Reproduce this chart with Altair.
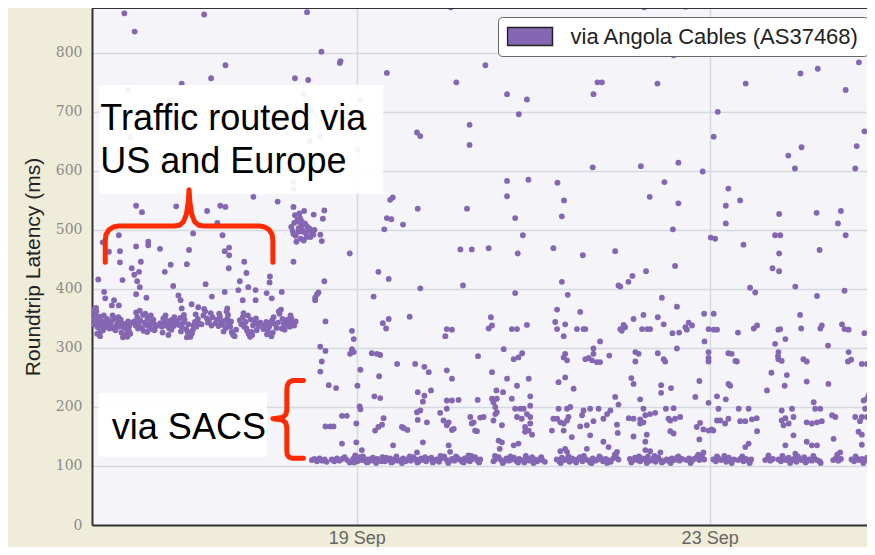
import altair as alt
import pandas as pd

SERIES = "via Angola Cables (AS37468)"
PURPLE = "#8466b3"

# hours after 16 Sep 00:00, latency in ms
x_tick_hours = [72, 168]
x_tick_labels = ["19 Sep", "23 Sep"]
y_ticks = [0, 100, 200, 300, 400, 500, 600, 700, 800]
x_max = 210.8
y_max = 876

# dense band while routed via US / Europe
band_points = [
    (0.3,350),(0.5,340),(0.8,358),(1.0,345),(1.2,362),(1.5,335),(1.8,352),(2.0,342),(2.3,328),(2.6,346),
    (2.9,338),(3.2,355),(3.5,344),(3.8,336),(4.1,349),(4.4,341),(4.7,333),(0.6,365),(1.4,324),(2.2,320),
    (3.0,330),(1.1,368),(2.7,339),(1.9,353),
    (5.0,340),(5.4,346),(5.8,333),(6.2,350),(6.6,338),(7.0,344),(7.4,336),(7.8,348),(8.2,342),(8.6,335),
    (9.0,340),(9.4,332),(9.8,345),(10.2,338),(10.6,343),(5.6,355),(6.4,330),(7.2,352),(8.0,326),(8.8,321),
    (9.6,319),(10.4,324),(8.4,318),(9.2,323),(10.0,330),
    (11.5,345),(11.9,338),(12.3,352),(12.7,341),(13.1,347),(13.5,334),(13.9,356),(14.3,343),(14.7,339),
    (15.1,350),(15.5,336),(15.9,344),(16.3,332),(16.7,348),(17.1,340),(17.5,337),(12.0,360),(13.0,363),
    (14.0,329),(15.0,327),(16.0,355),(17.0,330),(12.5,333),(14.5,358),(16.5,342),
    (18.6,342),(19.0,336),(19.4,350),(19.8,344),(20.2,338),(20.6,346),(21.0,333),(21.4,341),(21.8,348),
    (22.2,337),(22.6,343),(19.2,326),(20.0,355),(20.8,322),(21.6,331),(22.4,352),
    (23.2,345),(23.6,339),(24.0,351),(24.4,336),(24.8,343),(25.2,348),(25.6,332),(26.0,327),(26.4,321),
    (26.8,319),(27.2,325),(27.6,338),(28.0,344),(28.4,336),(28.8,349),(29.2,341),(25.0,356),(25.8,318),
    (26.6,323),(27.4,330),(24.2,328),(28.2,357),(26.2,340),
    (29.8,340),(30.3,355),(30.8,362),(31.3,350),(31.8,346),(32.3,359),(32.8,352),(30.5,366),(31.5,343),
    (32.5,338),
    (33.6,342),(34.0,348),(34.4,337),(34.8,353),(35.2,344),(35.6,339),(36.0,346),(36.4,334),(36.8,349),
    (37.2,341),(37.6,336),(38.0,327),(38.4,322),(38.8,320),(39.2,331),(34.6,358),(35.8,328),(37.0,356),
    (38.2,325),(36.6,362),(37.8,345),
    (40.2,347),(40.6,340),(41.0,352),(41.4,336),(41.8,344),(42.2,329),(42.6,324),(43.0,319),(43.4,327),
    (43.8,338),(44.2,345),(44.6,350),(45.0,341),(45.4,337),(45.8,343),(41.2,359),(42.4,355),(43.6,322),
    (44.8,330),(42.0,333),(43.2,348),
    (46.6,332),(47.0,338),(47.4,344),(47.8,329),(48.2,336),(48.6,342),(49.0,347),(49.4,352),(49.8,340),
    (50.2,334),(50.6,343),(51.0,358),(51.4,365),(51.8,349),(52.2,341),(52.6,346),(53.0,339),(53.4,344),
    (53.8,336),(54.2,350),(54.6,342),(55.0,338),(55.4,345),(47.6,323),(49.2,326),(50.8,362),(52.4,331),
    (54.0,355),(48.8,320),(51.6,333),(53.2,348),
]

# cluster around 500 ms on 18 Sep
cluster_points = [
    (54.2,505),(54.6,498),(55.0,512),(55.4,490),(55.8,516),(56.2,503),(56.6,520),(57.0,508),(57.4,497),
    (57.8,511),(58.2,494),(58.6,505),(59.0,500),(59.4,488),(59.8,496),(60.2,492),(55.2,525),(56.0,514),
    (56.8,485),(57.6,482),(58.4,488),(56.4,528),(57.2,500),(55.6,480),(58.0,510),(59.2,502),(54.8,493),
    (56.2,497),(57.0,515),(60.5,500),
]

# base band near 110 ms via SACS
base_points = [
    (59.8,110),(60.5,112),(61.2,108),(61.9,113),(62.6,109),(63.3,111),(63.8,107),
    (65.2,111),(65.9,108),(66.6,113),(67.3,109),(68.0,112),(68.7,115),(69.4,110),(70.1,106),
    (71.0,112),(71.6,118),(72.2,108),(72.8,115),(73.4,110),(74.0,113),(74.6,107),(75.2,111),(75.8,109),
    (76.4,114),(77.0,108),(77.6,112),(78.3,110),(79.0,115),(79.7,108),(80.4,111),(81.1,113),(81.8,107),
    (82.5,112),(83.2,109),(71.3,106),(72.5,113),(73.7,116),(74.9,106),(76.1,112),(77.3,105),(78.7,108),
    (80.0,114),(81.4,106),(82.8,116),
    (83.9,110),(84.6,113),(85.3,108),(86.0,112),(86.7,109),(87.4,115),(88.1,111),(88.8,107),(89.5,113),
    (90.2,110),(90.9,108),(91.6,112),(92.3,114),(93.0,109),(93.7,111),(94.4,107),(95.1,113),(95.8,116),
    (96.5,110),(97.2,108),(97.9,112),(98.6,109),(99.3,114),(100.0,111),(100.7,107),(101.4,113),(102.1,110),
    (102.8,108),(103.5,112),(104.2,115),(104.9,109),(105.6,111),(84.3,105),(86.4,116),(88.5,106),(90.6,115),
    (92.7,106),(94.8,117),(96.9,105),(99.0,116),(101.1,106),(103.2,117),(105.3,106),
    (109.2,108),(109.9,112),(110.6,115),(111.3,110),(112.0,107),(112.7,113),(113.4,109),(114.1,111),
    (114.8,114),(115.5,108),(116.2,112),(116.9,110),(117.6,106),(118.3,113),(119.0,109),(119.7,115),
    (120.4,111),(121.1,108),(121.8,112),(122.5,110),(123.2,107),(109.6,117),(111.7,105),(113.8,116),
    (115.9,106),(118.0,117),(120.1,105),(122.2,115),
    (126.4,111),(127.1,108),(127.8,114),(128.5,110),(129.2,112),(129.9,107),(130.6,113),(131.3,109),
    (132.0,111),(132.7,115),(133.4,108),(134.1,112),(134.8,110),(135.5,106),(136.2,113),(136.9,109),
    (137.6,111),(138.3,114),(139.0,108),(139.7,112),(140.4,110),(141.1,107),(141.8,113),(142.5,117),
    (143.2,111),(127.5,105),(129.6,116),(131.7,106),(133.8,117),(135.9,105),(138.0,116),(140.1,105),
    (142.2,119),
    (146.3,112),(147.0,109),(147.7,114),(148.4,110),(149.1,108),(149.8,113),(150.5,111),(151.2,116),
    (151.9,109),(152.6,112),(153.3,107),(154.0,114),(154.7,110),(155.4,108),(146.7,106),(148.8,116),
    (150.9,105),(153.0,117),(155.0,106),
    (156.3,111),(157.0,108),(157.7,113),(158.4,110),(159.1,114),(159.8,109),(160.5,112),(157.4,105),
    (159.5,116),
    (161.7,110),(162.4,113),(163.1,108),(163.8,112),(164.5,115),(165.2,110),(165.9,117),(166.5,111),
    (162.8,105),(164.9,119),
    (169.0,111),(169.7,108),(170.4,113),(171.1,110),(171.8,112),(172.5,107),(173.2,114),(173.9,109),
    (174.6,111),(170.0,116),(172.0,117),(174.0,105),
    (175.8,110),(176.5,113),(177.2,108),(177.9,112),(178.6,109),(179.3,111),(176.9,116),(178.9,105),
    (183.1,110),(183.8,113),(184.5,109),(185.2,112),(184.0,118),
    (186.7,111),(187.4,108),(188.1,113),(188.8,110),(189.5,114),(190.2,109),(190.9,112),(191.6,107),
    (192.3,113),(193.0,110),(193.7,115),(194.4,108),(195.1,111),(195.8,109),(196.5,113),(197.2,110),
    (197.9,108),(187.8,117),(189.9,105),(192.0,116),(194.1,106),(196.2,117),(198.2,105),
    (201.6,110),(202.3,113),(203.0,109),(203.7,112),(202.7,119),
    (206.6,111),(207.3,108),(208.0,113),(208.7,110),(209.4,112),(210.1,109),(210.8,114),(211.5,110),
    (212.2,108),(212.8,112),(207.7,116),(209.8,105),(211.9,117),
    (73.4,127),(88.4,123),(97.4,124),(102.4,118),(110.9,129),(127.4,125),(142.8,124),(151.8,125),
    (166.3,123),(154.6,123),(191.3,121),(203.5,123),
]

# mid-level points after the switch (120-380 ms)
mid_points = [
    (60.7,381),(63.5,345),(62.1,302),(63.5,295),(62.5,277),(62.1,260),(64.4,237),(66.4,232),(68.0,185),
    (69.3,185),(63.5,167),(64.8,167),(65.7,167),(68.0,138),(70.7,329),(71.2,315),(70.7,298),(70.2,290),
    (71.2,293),(73.0,263),(72.2,236),(72.8,201),(73.0,196),(71.9,172),(71.9,140),(79.1,342),(80.7,349),
    (80.0,333),(76.1,291),(77.5,290),(78.4,288),(78.1,252),(76.8,218),(78.4,215),(77.9,166),(77.0,160),
    (78.9,170),(79.3,181),(81.9,135),(83.0,273),(86.4,353),(87.9,273),(90.4,268),(91.6,259),(88.6,225),
    (90.4,219),(90.0,209),(89.3,194),(88.4,191),(88.6,178),(84.8,164),(85.8,161),(84.3,166),(90.0,140),
    (91.1,174),(92.2,228),(96.5,332),(97.9,331),(96.1,320),(96.5,262),(97.9,248),(96.5,211),(97.9,211),
    (99.7,212),(94.7,190),(96.5,197),(95.6,177),(97.0,174),(96.5,169),(98.4,163),(97.9,161),(97.0,135),
    (105.0,286),(104.9,212),(108.8,259),(108.5,352),(108.8,338),(107.9,333),(103.8,174),(102.9,183),
    (105.6,182),(106.5,183),(104.2,160),(104.7,159),(103.3,172),(109.2,208),(109.7,200),(110.1,191),
    (109.2,177),(109.7,188),(108.8,214),(110.1,214),(111.5,169),(110.0,228),(111.8,225),(112.9,248),
    (112.0,298),(110.6,143),(111.5,140),(114.7,135),(116.0,138),(114.2,332),(115.6,332),(118.3,339),
    (114.7,281),(116.0,284),(117.0,291),(115.6,236),(118.8,248),(114.2,214),(119.2,218),(119.2,202),
    (115.1,197),(116.5,197),(117.4,197),(115.6,183),(116.9,180),(118.3,188),(119.2,183),(119.2,172),
    (117.8,166),(118.8,160),(119.7,153),(117.8,158),(126.5,365),(126.0,344),(128.7,340),(126.5,332),
    (128.3,320),(128.7,290),(129.2,279),(128.3,284),(128.7,250),(126.9,242),(131.0,231),(126.9,197),
    (129.2,197),(130.1,200),(126.5,180),(127.4,174),(128.3,172),(125.5,180),(129.2,177),(129.6,183),
    (125.1,160),(128.3,160),(130.5,149),(128.7,129),(129.2,124),(132.8,361),(131.9,332),(133.7,332),
    (133.7,194),(133.3,186),(132.8,167),(134.6,169),(134.6,129),
    (134.2,332),(136.4,299),(136.4,290),(135.1,283),(136.0,279),(137.3,276),(138.2,276),(134.2,281),
    (138.2,311),(140.7,287),(135.5,197),(137.8,197),(136.4,176),(139.1,180),(140.1,188),(142.3,217),
    (143.2,204),(141.0,194),(135.5,152),(139.1,141),(140.5,132),(142.8,170),(143.0,156),(143.7,332),
    (144.6,339),(145.0,335),(144.1,329),(147.3,349),(150.0,356),(153.9,352),(155.5,340),(149.6,332),
    (151.0,332),(151.8,332),(147.8,293),(148.7,290),(147.8,277),(153.9,291),(155.5,281),(155.9,277),
    (146.7,249),(147.3,239),(149.1,213),(146.0,181),(147.3,180),(149.1,179),(150.0,174),(149.1,172),
    (150.5,186),(150.0,197),(151.8,188),(153.2,190),(147.3,150),(150.9,153),(150.5,141),(150.5,127),
    (154.8,237),(154.8,224),(157.5,232),(156.1,197),(158.2,198),(157.3,177),(158.6,180),(160.0,183),
    (156.8,180),(157.3,159),(158.2,155),(159.1,370),(157.9,325),(159.7,326),(159.1,299),(161.4,335),
    (162.3,343),(163.2,338),(161.8,331),(164.1,217),(165.2,244),(164.5,166),(165.4,173),(166.3,162),
    (167.7,160),(169.0,160),(168.6,162),(165.2,145),(166.5,358),(169.1,358),(167.7,332),(169.1,331),
    (170.0,331),(166.6,311),(167.7,293),(167.7,283),(167.7,277),(167.7,207),(170.0,218),(172.4,213),
    (170.4,197),(170.0,177),(170.9,177),(172.2,172),(173.1,180),(173.1,239),(173.6,236),(173.1,291),
    (174.0,290),(175.4,277),(175.0,278),(175.7,326),(175.9,197),(178.6,197),(176.3,176),(177.7,176),
    (179.5,179),(180.8,181),(177.7,132),(178.6,138),(180.0,333),(180.9,338),(180.9,159),(183.6,228),
    (184.8,258),(189.0,254),(188.4,236),(185.8,307),(188.6,315),(186.7,293),(186.7,281),(187.6,278),
    (186.6,286),(187.2,332),(186.7,331),(187.6,194),(188.6,181),(190.4,197),(190.8,183),(188.1,169),
    (189.5,172),(187.6,177),(190.8,152),(188.6,135),(192.6,356),(192.9,333),(193.5,281),(194.4,277),
    (194.4,243),(196.3,208),(196.7,197),(198.1,197),(194.4,174),(195.8,172),(197.2,174),(198.5,176),
    (194.4,141),(195.8,135),(197.2,135),(198.1,333),(198.5,338),(200.2,304),(200.3,239),(201.3,186),
    (202.2,183),(201.7,146),(204.0,340),(204.7,332),(205.8,331),(205.8,293),(206.5,280),(205.6,277),
    (209.4,273),(210.8,273),(210.1,325),(207.6,183),(209.4,183),(210.8,183),(210.3,197),(210.8,214),
    (211.2,219),(209.9,211),(211.7,174),(208.9,176),(208.5,158),(209.4,153),(209.4,136),(212.1,293),
    (212.9,294),(212.6,129),
]

# scattered high-latency points
high_points = [
    (1.7,416),(2.9,479),(7.3,491),(4.6,463),(7.6,464),(7.6,445),(8.3,415),(3.3,395),(3.6,384),(6.0,381),
    (5.4,372),(7.3,372),(12.0,472),(15.3,480),(15.3,474),(18.5,468),(13.3,446),(10.8,435),(12.8,429),
    (11.5,424),(12.3,413),(13.0,403),(12.0,391),(14.8,385),(19.8,429),(21.4,441),(22.1,405),(23.5,389),
    (24.1,381),(24.4,367),(26.4,466),(25.8,442),(27.5,494),(27.1,374),(28.9,369),(30.9,408),(32.6,387),
    (34.1,512),(35.5,491),(36.1,464),(37.3,470),(37.3,457),(37.2,435),(36.1,395),(36.8,367),(41.4,446),
    (42.0,427),(40.2,413),(42.5,403),(39.8,398),(41.0,381),(44.5,398),(44.5,381),(48.4,421),(48.3,411),
    (47.5,393),(48.9,384),(51.6,395),
    (8.8,867),(11.6,836),(30.5,865),(58.5,869),(62.4,802),(67.4,783),(67.6,786),(36.3,779),(32.4,757),
    (24.4,748),(55.2,757),(58.8,754),(80.2,766),(9.8,737),(21.1,720),(10.4,657),(57.5,730),(59.6,703),
    (62.1,658),(73.0,720),(59.3,650),(54.8,581),(54.8,569),(55.5,600),(72.2,636),(12.0,541),(13.6,530),
    (22.9,540),(31.3,532),(34.9,541),(36.3,539),(43.9,556),(50.5,548),(54.8,539),(57.7,532),(60.3,526),
    (63.2,533),(62.8,519),(62.1,492),(62.5,481),(54.8,446),(70.1,460),(63.2,413),(61.2,391),(61.6,394),
    (60.7,385),
    (97.6,877),(107.0,779),(99.1,750),(112.9,730),(118.3,721),(116.1,696),(102.7,678),(102.7,644),
    (88.4,665),(89.3,659),(112.9,583),(118.7,585),(126.6,580),(128.4,550),(127.8,523),(112.9,557),
    (115.1,520),(117.2,491),(115.8,460),(100.2,467),(103.3,467),(107.9,469),(125.5,469),(102.0,536),
    (88.6,536),(81.1,551),(81.8,555),(80.2,520),(81.4,518),(84.6,509),(79.5,501),(77.9,429),(80.7,417),
    (89.3,401),(76.6,387),
    (136.4,730),(137.5,750),(138.7,750),(153.8,748),(150.2,877),(158.2,796),(136.2,606),(149.3,608),
    (159.5,614),(155.7,581),(151.7,556),(159.5,545),(133.5,457),(142.3,464),(158.0,501),(158.6,439),
    (150.7,430),(147.0,422),(145.9,412),(143.2,406),(143.7,404),(127.8,412),(129.4,390),(115.1,393),
    (100.9,406),(155.0,385),
    (161.5,878),(177.8,748),(170.2,700),(169.1,658),(192.7,765),(197.4,773),(208.6,784),(205.0,737),
    (210.1,667),(208.0,642),(193.0,640),(189.4,626),(191.2,604),(207.6,604),(166.1,599),(173.1,570),
    (176.3,550),(172.4,541),(172.4,511),(186.9,527),(197.1,529),(203.7,532),(202.9,511),(185.8,491),
    (187.2,491),(205.0,491),(168.3,487),(169.5,485),(177.2,475),(186.9,460),(197.9,466),(185.1,435),
    (186.9,430),(179.0,402),(180.4,394),(191.3,404),(204.7,397),(197.2,388),
]

# annotation boxes and texts
box_h_start = [2.0, 1.8]
box_h_end = [79.2, 47.6]
box_ms_low = [561, 115.5]
box_ms_high = [745.6, 223.5]

note_text = ["Traffic routed via", "US and Europe", "via SACS"]
note_h = [2.25, 2.25, 5.4]
note_ms = [669.5, 596.5, 145.2]

brace_top = [(3.6,445),(3.6,482),(3.8,492),(4.6,500),(5.8,505),(7.2,506.5),(22.4,506.5),(23.8,508),
             (24.9,514),(25.7,527),(26.2,548),(26.4,568),(26.6,548),(27.1,527),(27.9,514),(29.0,508),
             (30.4,506.5),(45.6,506.5),(47.0,505),(48.2,500),(49.0,492),(49.2,482),(49.2,445)]
brace_side = [(57.5,245),(54.6,245),(53.6,242),(53.1,236),(53.0,228),(53.0,195),(52.7,187),(51.8,182),
              (49.2,180),(51.8,178),(52.7,173),(53.0,165),(53.0,124),(53.1,119),(53.6,115),(54.6,113),
              (57.5,113)]

# ---------------- build ----------------
rows = band_points + cluster_points + base_points + mid_points + high_points
pts = pd.DataFrame(rows, columns=["h", "ms"])
pts["series"] = SERIES

boxes = pd.DataFrame({"h": box_h_start, "h2": box_h_end, "ms": box_ms_low, "ms2": box_ms_high})
notes = pd.DataFrame({"t": note_text, "h": note_h, "ms": note_ms})
br = []
for name, path in [("top", brace_top), ("side", brace_side)]:
    for i, (h, m) in enumerate(path):
        br.append({"b": name, "o": i, "h": h, "ms": m})
braces = pd.DataFrame(br)

xs = alt.Scale(domain=[0, x_max], nice=False, zero=False)
ys = alt.Scale(domain=[0, y_max], nice=False, zero=False)

label_expr = " : ".join(
    f"datum.value == {v} ? '{l}'" for v, l in zip(x_tick_hours[:-1], x_tick_labels[:-1])
) + f" : '{x_tick_labels[-1]}'"

x_axis = alt.Axis(values=x_tick_hours, labelExpr=label_expr, title=None, grid=True, ticks=False,
                  labelFont="Liberation Sans", labelFontSize=18, labelColor="#666666", labelPadding=4,
                  domainColor="#333333", domainWidth=2, gridColor="#d7d9e0", gridWidth=1.5)
y_axis = alt.Axis(values=y_ticks, title="Roundtrip Latency (ms)", grid=True, ticks=False,
                  labelFont="DejaVu Serif", labelFontSize=14, labelColor="#8a8a8a", labelPadding=10,
                  titleFont="Liberation Sans", titleFontSize=21, titleFontWeight="normal",
                  titleColor="#222222", titlePadding=12,
                  domainColor="#333333", domainWidth=2, gridColor="#d7d9e0", gridWidth=1.5)

X = alt.X("h:Q", scale=xs, axis=x_axis)
Y = alt.Y("ms:Q", scale=ys, axis=y_axis)

legend = alt.Legend(title=None, orient="none", legendX=406, legendY=9,
                    fillColor="white", strokeColor="#666666", cornerRadius=4, padding=8.5,
                    symbolType="M-1,-0.4H1V0.4H-1Z", symbolSize=2025, symbolStrokeColor="#222222",
                    symbolStrokeWidth=1.5, symbolOpacity=1, clipHeight=22,
                    labelFont="Liberation Sans", labelFontSize=22, labelColor="#222222",
                    labelOffset=17, labelLimit=500)

points = alt.Chart(pts).mark_circle(size=34, opacity=1, clip=True).encode(
    x=X, y=Y,
    color=alt.Color("series:N", scale=alt.Scale(range=[PURPLE]), legend=legend),
)

box_layer = alt.Chart(boxes).mark_rect(color="white", opacity=0.92).encode(
    x=X, x2="h2:Q", y=Y, y2="ms2:Q",
)

text_layer = alt.Chart(notes).mark_text(align="left", baseline="alphabetic", fontSize=36,
                                        font="Liberation Sans", color="black").encode(
    x=X, y=Y, text="t:N",
)

brace_layer = alt.Chart(braces).mark_line(color="#ff2a00", strokeWidth=5, strokeCap="round",
                                          strokeJoin="round").encode(
    x=X, y=Y, detail="b:N", order="o:Q",
)

frame = alt.Chart(pd.DataFrame({"k": [0]})).mark_rule(color="#333333", strokeWidth=2).encode(
    y=alt.value(0)
)

chart = alt.layer(points, box_layer, text_layer, brace_layer, frame).properties(
    width=775, height=517, background="#efedd9",
    padding={"left": 84, "top": 0, "right": 0, "bottom": 22},
    autosize=alt.AutoSizeParams(type="none"),
).configure_view(fill="#f4f4f9", stroke=None)

chart.save("out.html", embed_options={"renderer": "svg", "actions": False})
